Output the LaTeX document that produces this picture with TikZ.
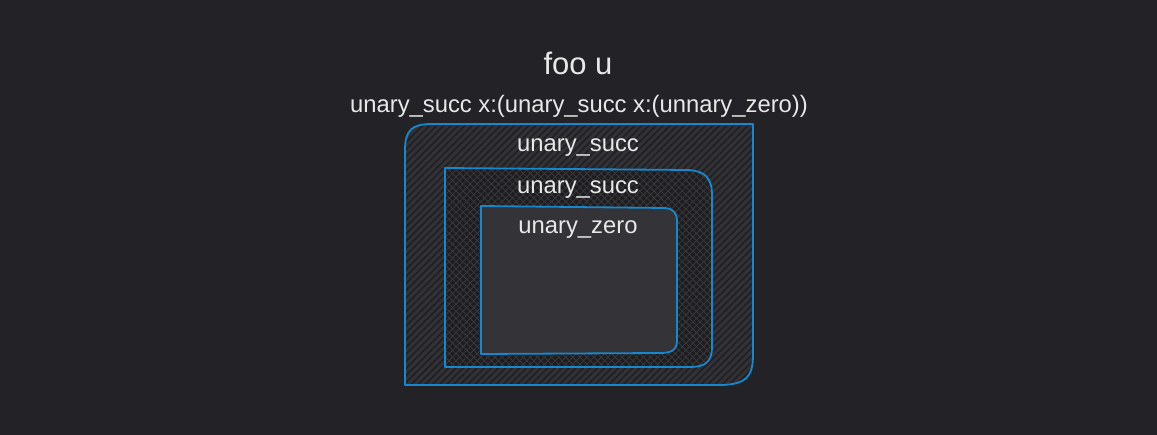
\documentclass[tikz,border=0pt]{standalone}
\usepackage{fontspec}
\setmainfont{Liberation Sans}
\usetikzlibrary{patterns.meta}
\definecolor{bg}{RGB}{35,35,39}
\definecolor{edge}{RGB}{22,136,208}
\definecolor{txt}{RGB}{232,232,232}
\definecolor{hatchbase}{RGB}{50,50,54}
\definecolor{hatchline}{RGB}{32,32,35}
\definecolor{crossbase}{RGB}{30,30,33}
\definecolor{crossline}{RGB}{58,58,62}
\definecolor{innerfill}{RGB}{51,51,56}
\tikzset{
  boxline/.style={draw=edge, line width=1.8pt, line join=round},
  lbl/.style={text=txt, anchor=base, inner sep=0pt, font=\fontsize{23.8}{28}\selectfont},
  title/.style={text=txt, anchor=base, inner sep=0pt, font=\fontsize{31}{36}\selectfont},
}
\begin{document}
\begin{tikzpicture}[x=1pt,y=-1pt]
\useasboundingbox[fill=bg] (0,0) rectangle (1157,435);
% outer box
\path[fill=hatchbase, postaction={pattern={Lines[angle=45,distance=5pt,line width=1.6pt]}, pattern color=hatchline}]
  (405,385) -- (405,150) .. controls (405,130) and (412,124) .. (432,124) -- (753,124) -- (753,355) .. controls (753,378) and (745,384) .. (722,385) -- cycle;
\draw[boxline] (405,385) -- (405,150) .. controls (405,130) and (412,124) .. (432,124) -- (753,124) -- (753,355) .. controls (753,378) and (745,384) .. (722,385) -- cycle;
% middle box
\path[fill=crossbase, postaction={pattern={Lines[angle=45,distance=5pt,line width=0.8pt]}, pattern color=crossline}, postaction={pattern={Lines[angle=-45,distance=5pt,line width=0.8pt]}, pattern color=crossline}]
  (445,367) -- (445,168) -- (688,170) .. controls (705,171) and (712,178) .. (712,195) -- (712,347) .. controls (712,362) and (705,367) .. (690,367) -- cycle;
\draw[boxline] (445,367) -- (445,168) -- (688,170) .. controls (705,171) and (712,178) .. (712,195) -- (712,347) .. controls (712,362) and (705,367) .. (690,367) -- cycle;
% inner box
\draw[boxline, fill=innerfill] (481,354) -- (481,206) -- (665,208) .. controls (674,209) and (677,213) .. (677,222) -- (677,340) .. controls (677,350) and (672,353) .. (660,353) -- cycle;
% texts
\node[title] (t1) at (578,75) {foo u};
\node[lbl] (t2) at (579,113) {unary\_succ x:(unary\_succ x:(unnary\_zero))};
\node[lbl] (l1) at (578,152) {unary\_succ};
\node[lbl] (l2) at (578,194) {unary\_succ};
\node[lbl] (l3) at (578,234) {unary\_zero};
\end{tikzpicture}
\end{document}
